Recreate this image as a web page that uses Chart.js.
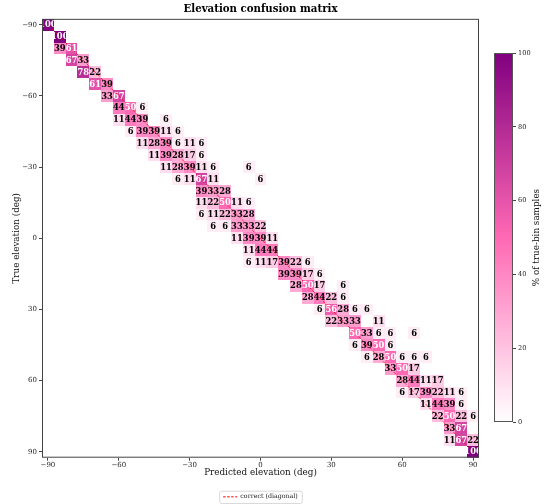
<!DOCTYPE html>
<html>
<head>
<meta charset="utf-8">
<script src="https://cdn.jsdelivr.net/npm/chart.js@4.4.1/dist/chart.umd.min.js"></script>
<style>
  html, body { margin: 0; padding: 0; background: #fff; }
  #wrap { position: relative; width: 549px; height: 504px; overflow: hidden; }
  #main { position: absolute; left: 0; top: 0; }
  #cbar { position: absolute; left: 490px; top: 45px; }
</style>
</head>
<body>
<div id="wrap">
  <canvas id="main" width="549" height="504"></canvas>
  <canvas id="cbar" width="59" height="390"></canvas>
</div>
<script>
// bin centres (deg), true rows / predicted columns share them
const binCenters = [-90,-85,-80,-75,-70,-65,-60,-55,-50,-45,-40,-35,-30,-25,-20,-15,-10,-5,0,
                    5,10,15,20,25,30,35,40,45,50,55,60,65,70,75,80,85,90];
const binWidth = 5;
const tickValues = [-90, -60, -30, 0, 30, 60, 90];
const cbarTicks = [0, 20, 40, 60, 80, 100];
const diagEnds = [-90, 90];

// each row: first non-empty column index, then % values from that column on (0 = empty)
const rowStart = [0,1,1,2,3,4,5,6,6,7,8,9,10,11,13,13,13,14,16,17,17,20,21,22,23,24,26,26,27,29,30,30,32,33,34,34,36];
const rowValues = [
  [100],
  [100],
  [39,61],
  [67,33],
  [78,22],
  [61,39],
  [33,67],
  [44,50,6],
  [11,44,39,0,6],
  [6,39,39,11,6],
  [11,28,39,6,11,6],
  [11,39,28,17,6],
  [11,28,39,11,6,0,0,6],
  [6,11,67,11,0,0,0,6],
  [39,33,28],
  [11,22,50,11,6],
  [6,11,22,33,28],
  [6,6,33,33,22],
  [11,39,39,11],
  [11,44,44],
  [6,11,17,39,22,6],
  [39,39,17,6],
  [28,50,17,0,6],
  [28,44,22,6],
  [6,56,28,6,6],
  [22,33,33,0,11],
  [50,33,6,6,0,6],
  [6,39,50,6],
  [6,28,50,6,6,6],
  [33,50,17],
  [28,44,11,17],
  [6,17,39,22,11,6],
  [11,44,39,6],
  [22,50,22,6],
  [33,67],
  [11,67,22],
  [100]
];

// white -> hotpink -> purple
const cmapStops = [[0, [255,255,255]], [0.5, [255,105,180]], [1, [128,0,128]]];
function cmap(v){
  const t = Math.max(0, Math.min(1, v / 100));
  for(let i = 1; i < cmapStops.length; i++){
    const [t1, c1] = cmapStops[i], [t0, c0] = cmapStops[i-1];
    if(t <= t1){
      const f = (t - t0) / (t1 - t0);
      const c = c0.map((a, k) => Math.round(a + (c1[k] - a) * f));
      return `rgb(${c[0]},${c[1]},${c[2]})`;
    }
  }
  return 'rgb(128,0,128)';
}

const cells = [];
rowValues.forEach((vals, r) => {
  vals.forEach((v, k) => {
    if(v > 0) cells.push({ x: binCenters[rowStart[r] + k], y: binCenters[r], v });
  });
});

const SERIF = '"DejaVu Serif", serif';
const fmtDeg = v => v < 0 ? '\u2212' + Math.abs(v) : String(v);

const cellPlugin = {
  id: 'cells',
  beforeDatasetsDraw(chart){
    const { ctx, chartArea: a, scales: { x, y } } = chart;
    const half = binWidth / 2;
    ctx.save();
    ctx.beginPath(); ctx.rect(a.left, a.top, a.width, a.height); ctx.clip();
    chart.data.datasets[0].data.forEach(c => {
      const x0 = Math.round(x.getPixelForValue(c.x - half)), x1 = Math.round(x.getPixelForValue(c.x + half));
      const y0 = Math.round(y.getPixelForValue(c.y - half)), y1 = Math.round(y.getPixelForValue(c.y + half));
      ctx.fillStyle = cmap(c.v);
      ctx.fillRect(Math.min(x0, x1), Math.min(y0, y1), Math.abs(x1 - x0), Math.abs(y1 - y0));
    });
    ctx.restore();
  },
  afterDatasetsDraw(chart){
    const { ctx, chartArea: a, scales: { x, y } } = chart;
    ctx.save();
    ctx.beginPath(); ctx.rect(a.left, a.top, a.width, a.height); ctx.clip();
    ctx.font = 'bold 8.4px ' + SERIF;
    ctx.textAlign = 'center'; ctx.textBaseline = 'middle';
    chart.data.datasets[0].data.forEach(c => {
      ctx.fillStyle = c.v >= 50 ? '#ffffff' : '#000000';
      ctx.fillText(String(c.v), x.getPixelForValue(c.x), y.getPixelForValue(c.y) + 0.5);
    });
    ctx.restore();
  },
  afterDraw(chart){
    const { ctx, chartArea: a, legend } = chart;
    ctx.save();
    // spines
    ctx.strokeStyle = '#444'; ctx.lineWidth = 1;
    ctx.strokeRect(a.left + 0.5, a.top + 0.5, a.width - 1, a.height - 1);
    // legend frame
    if(legend && legend.legendHitBoxes && legend.legendHitBoxes.length){
      const hb = legend.legendHitBoxes[0];
      const bx = hb.left - 4, by = hb.top - 3, bw = hb.width + 8, bh = hb.height + 6;
      ctx.strokeStyle = '#d0d0d0'; ctx.lineWidth = 0.8;
      ctx.beginPath();
      ctx.roundRect(bx + 0.5, by + 0.5, bw, bh, 2);
      ctx.stroke();
    }
    ctx.restore();
  }
};

new Chart(document.getElementById('main'), {
  type: 'scatter',
  data: {
    datasets: [
      { label: 'cells', data: cells, pointRadius: 0, pointHoverRadius: 0 },
      {
        type: 'line', label: 'correct (diagonal)',
        data: diagEnds.map(v => ({ x: v, y: v })),
        borderColor: 'rgba(255,0,0,0.75)', borderWidth: 1, borderDash: [3, 2],
        pointRadius: 0, fill: false
      }
    ]
  },
  options: {
    responsive: false,
    animation: false,
    layout: { padding: { left: 0, right: 70, top: 0, bottom: -6 } },
    plugins: {
      title: {
        display: true, fullSize: false, text: 'Elevation confusion matrix', color: '#000',
        font: { family: SERIF, size: 10.2, weight: 'bold' },
        padding: { top: 3.6, bottom: 3 }
      },
      legend: {
        position: 'bottom', fullSize: false,
        labels: {
          usePointStyle: true, pointStyle: 'line', pointStyleWidth: 14,
          color: '#222', padding: 5,
          font: { family: SERIF, size: 6.3 },
          generateLabels: chart => Chart.defaults.plugins.legend.labels.generateLabels(chart)
            .filter(item => item.text !== 'cells')
            .map(item => Object.assign(item, { strokeStyle: '#ff0000', lineWidth: 1, lineDash: [2.5, 1.5] }))
        }
      },
      tooltip: { enabled: false }
    },
    scales: {
      x: {
        type: 'linear', min: binCenters[0] - binWidth / 2, max: binCenters[binCenters.length - 1] + binWidth / 2,
        afterBuildTicks: s => { s.ticks = tickValues.map(v => ({ value: v })); },
        afterFit: s => { s.height = 31; },
        ticks: { callback: fmtDeg, font: { family: SERIF, size: 7 }, color: '#222', padding: 0, maxRotation: 0 },
        grid: { drawOnChartArea: false, drawTicks: true, tickLength: 3, color: '#444' },
        border: { display: false },
        title: { display: true, text: 'Predicted elevation (deg)', color: '#111',
                 font: { family: SERIF, size: 8.8 }, padding: { top: 0, bottom: 11 } }
      },
      y: {
        type: 'linear', reverse: true,
        min: binCenters[0] - binWidth / 2, max: binCenters[binCenters.length - 1] + binWidth / 2,
        afterBuildTicks: s => { s.ticks = tickValues.map(v => ({ value: v })); },
        afterFit: s => { s.width = 42; },
        ticks: { callback: fmtDeg, font: { family: SERIF, size: 7 }, color: '#222', padding: 2 },
        grid: { drawOnChartArea: false, drawTicks: true, tickLength: 3, color: '#444' },
        border: { display: false },
        title: { display: true, text: 'True elevation (deg)', color: '#111',
                 font: { family: SERIF, size: 8.8 }, padding: { top: 11, bottom: 0 } }
      }
    }
  },
  plugins: [cellPlugin]
});

// colour bar
const cbarPlugin = {
  id: 'cbarFrame',
  afterDraw(chart){
    const { ctx, chartArea: a } = chart;
    ctx.save();
    ctx.strokeStyle = '#555'; ctx.lineWidth = 1;
    ctx.strokeRect(a.left + 0.5, a.top + 0.5, a.width - 1, a.height - 1);
    ctx.translate(46.5, (a.top + a.bottom) / 2);
    ctx.rotate(-Math.PI / 2);
    ctx.font = '8.8px ' + SERIF;
    ctx.fillStyle = '#111';
    ctx.textAlign = 'center'; ctx.textBaseline = 'middle';
    ctx.fillText('% of true-bin samples', 0, 0);
    ctx.restore();
  }
};

new Chart(document.getElementById('cbar'), {
  type: 'bar',
  data: {
    labels: [''],
    datasets: [{
      data: [cbarTicks[cbarTicks.length - 1]],
      borderWidth: 0, barPercentage: 1, categoryPercentage: 1,
      backgroundColor: (c) => {
        const a = c.chart.chartArea;
        if(!a) return '#ff69b4';
        const g = c.chart.ctx.createLinearGradient(0, a.bottom, 0, a.top);
        cmapStops.forEach(([t, col]) => g.addColorStop(t, `rgb(${col[0]},${col[1]},${col[2]})`));
        return g;
      }
    }]
  },
  options: {
    responsive: false,
    animation: false,
    layout: { padding: { left: 4, right: 0, top: 8, bottom: 13 } },
    plugins: { legend: { display: false }, tooltip: { enabled: false } },
    scales: {
      x: { display: false },
      y: {
        position: 'right', min: cbarTicks[0], max: cbarTicks[cbarTicks.length - 1],
        afterBuildTicks: s => { s.ticks = cbarTicks.map(v => ({ value: v })); },
        afterFit: s => { s.width = 36; },
        ticks: { font: { family: SERIF, size: 6.6 }, color: '#222', padding: 2 },
        grid: { drawOnChartArea: false, drawTicks: true, tickLength: 3, color: '#444' },
        border: { display: false }
      }
    }
  },
  plugins: [cbarPlugin]
});
</script>
</body>
</html>
